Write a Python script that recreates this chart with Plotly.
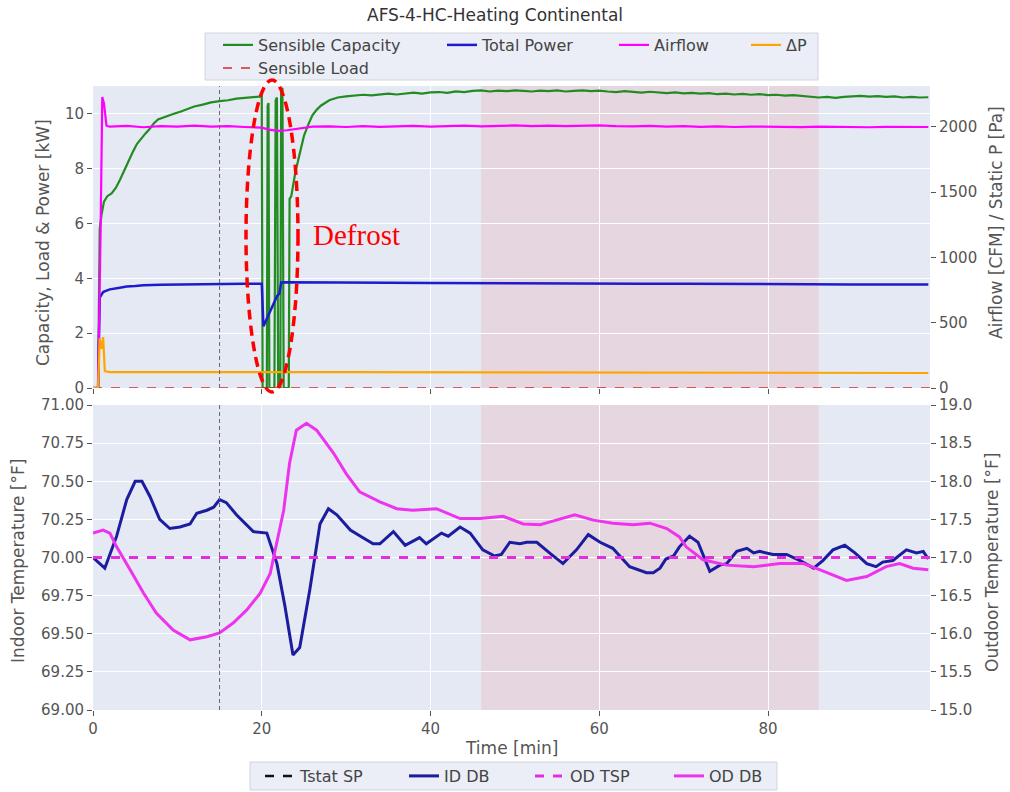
import plotly.graph_objects as go

# ---------------- top panel data ----------------
cap_t = [0, 0.6, 0.8, 1.0, 1.3, 1.7, 2.2, 2.7, 3.2, 3.7, 4.2, 4.7, 5.2, 5.7, 6.2, 6.7, 7.2, 7.7,
         8.5, 9.5, 10.5, 11, 12, 13, 14, 15, 16, 17, 18, 19, 20.0,
         20.1, 20.6, 20.7, 20.8, 20.9, 21.5, 21.65, 21.8, 21.95, 22.2, 22.3, 22.45, 22.6, 23.2, 23.3,
         23.5, 24.0, 24.5, 25.0, 25.5, 26, 26.5, 27, 28, 29,
         30, 31, 32, 33, 34, 35, 36, 37, 38, 39, 40, 41, 42, 43, 44, 45, 46, 47, 48, 49,
         50, 51, 52, 53, 54, 55, 56, 57, 58, 59, 60, 61, 62, 63, 64, 65, 66, 67, 68, 69,
         70, 71, 72, 73, 74, 75, 76, 77, 78, 79, 80, 81, 82, 83, 84, 85, 86, 87, 88, 89,
         90, 91, 92, 93, 94, 95, 96, 97, 98, 99]
cap_kw = [0, 0, 5.8, 6.3, 6.8, 7.0, 7.1, 7.3, 7.6, 7.95, 8.3, 8.6, 8.9, 9.1, 9.28, 9.45, 9.65, 9.8,
          9.9, 10.0, 10.1, 10.15, 10.27, 10.34, 10.42, 10.47, 10.5, 10.56, 10.58, 10.62, 10.64,
          0.0, 0.0, 10.3, 10.4, 0.0, 0.0, 10.5, 10.6, 0.0, 0.0, 10.9, 10.95, 0.0, 0.0, 6.9,
          7.0, 7.9, 8.6, 9.2, 9.6, 9.95, 10.15, 10.3, 10.5, 10.6,
          10.64, 10.66, 10.7, 10.68, 10.72, 10.74, 10.71, 10.75, 10.78, 10.74, 10.79, 10.8, 10.77, 10.82, 10.8, 10.84, 10.86, 10.82, 10.85, 10.83,
          10.86, 10.84, 10.82, 10.85, 10.83, 10.86, 10.82, 10.84, 10.86, 10.83, 10.85, 10.82, 10.8, 10.83, 10.8, 10.78, 10.81, 10.78, 10.76, 10.79,
          10.75, 10.77, 10.74, 10.76, 10.72, 10.74, 10.71, 10.73, 10.7, 10.72, 10.69, 10.7, 10.67, 10.69, 10.66, 10.63, 10.6, 10.62, 10.59, 10.62,
          10.64, 10.66, 10.63, 10.65, 10.62, 10.64, 10.6, 10.62, 10.6, 10.61]

pow_t = [0, 0.6, 0.8, 1.2, 1.6, 2, 3, 4, 5, 6, 8, 10, 12, 15, 18, 20.0, 20.2, 21.0, 21.8, 22.1, 22.3,
         23, 24, 26, 30, 35, 40, 45, 50, 55, 60, 65, 70, 75, 80, 85, 90, 95, 99]
pow_kw = [0, 0, 3.3, 3.5, 3.55, 3.6, 3.65, 3.7, 3.72, 3.75, 3.77, 3.78, 3.79, 3.8, 3.8, 3.8, 2.25, 2.8, 3.35, 3.45, 3.85,
          3.86, 3.86, 3.85, 3.85, 3.84, 3.83, 3.82, 3.82, 3.81, 3.8, 3.8, 3.8, 3.79, 3.79, 3.78, 3.78, 3.78, 3.78]

air_t = [0, 0.6, 0.9, 1.1, 1.3, 1.6, 2, 4, 6, 8, 10, 12, 14, 16, 18, 20, 21, 22, 23, 24, 25, 26, 28, 30,
         32, 34, 36, 38, 40, 42, 44, 46, 48, 50, 52, 54, 56, 58, 60, 62, 64, 66, 68, 70, 72, 74, 76, 78,
         80, 82, 84, 86, 88, 90, 92, 94, 96, 98, 99]
air_cfm = [0, 0, 1200, 2230, 2180, 2010, 2002, 2008, 1998, 2006, 2003, 2010, 2002, 2006, 2000, 1995, 1978, 1970, 1975, 1985, 1995, 2002, 2005, 2000,
           2006, 2001, 2004, 2008, 2003, 2007, 2010, 2005, 2009, 2012, 2007, 2010, 2006, 2011, 2012, 2006, 2004, 2008, 2003, 2006, 2001, 2004, 2000, 2003,
           2001, 2004, 1999, 2003, 2000, 2002, 1998, 2001, 1999, 2002, 2000]

dp_t = [0, 0.6, 0.8, 1.0, 1.2, 1.4, 2, 5, 10, 15, 20, 22, 25, 30, 40, 50, 60, 70, 80, 90, 99]
dp_pa = [0, 0, 380, 300, 390, 130, 122, 123, 122, 122, 121, 119, 121, 121, 120, 119, 118, 118, 117, 116, 115]

load_t = [0, 99.2]
load_kw = [0, 0]

# ---------------- bottom panel data ----------------
id_t = [0.0, 1.4, 2.8, 4.0, 5.0, 5.8, 6.75, 7.9, 9.1, 10.3, 11.5, 12.3, 13.5, 14.3, 15.0, 15.8, 17.0, 18.2, 19.0,
        20.6, 21.8, 22.75, 23.7, 24.5, 25.7, 26.9, 27.9, 28.9, 30.5, 32.0, 33.2, 34.0, 35.6, 37.0, 38.7, 39.5,
        41.3, 42.1, 43.5, 44.7, 46.2, 47.6, 48.4, 49.4, 50.6, 51.4, 52.6, 54.1, 55.7, 57.3, 58.7, 60.1, 61.6,
        63.6, 65.6, 66.4, 67.2, 67.9, 68.8, 69.5, 70.7, 71.7, 73.1, 74.3, 75.1, 76.3, 77.5, 78.3, 79.0, 80.6,
        82.2, 83.8, 85.4, 86.5, 87.7, 89.1, 90.3, 91.7, 92.8, 93.6, 94.8, 96.4, 97.6, 98.4, 99.0]
id_db = [70.0, 69.93, 70.14, 70.38, 70.50, 70.50, 70.40, 70.25, 70.19, 70.20, 70.22, 70.29, 70.31, 70.33, 70.38, 70.36, 70.28, 70.21, 70.17,
         70.16, 69.96, 69.68, 69.36, 69.41, 69.79, 70.22, 70.32, 70.28, 70.18, 70.13, 70.09, 70.09, 70.17, 70.08, 70.13, 70.09,
         70.16, 70.14, 70.20, 70.16, 70.05, 70.01, 70.02, 70.10, 70.09, 70.10, 70.10, 70.03, 69.96, 70.05, 70.15, 70.10, 70.06,
         69.94, 69.90, 69.90, 69.93, 69.99, 70.01, 70.07, 70.14, 70.10, 69.91, 69.95, 69.96, 70.04, 70.06, 70.03, 70.04, 70.02,
         70.02, 69.98, 69.93, 69.98, 70.05, 70.08, 70.03, 69.96, 69.94, 69.97, 69.98, 70.05, 70.03, 70.04, 69.99]

od_t = [0, 1.2, 2.0, 2.8, 4.4, 6.0, 7.5, 9.5, 11.5, 13.5, 15.0, 16.6, 18.2, 19.8, 21.0, 21.8, 22.6, 23.3, 24.1,
        25.3, 26.5, 28.5, 30.0, 31.6, 34.0, 36.0, 37.9, 40.7, 43.5, 45.9, 48.6, 51.0, 53.0, 54.9, 57.1, 59.3,
        61.6, 64.0, 66.0, 68.0, 69.5, 70.3, 72.3, 75.1, 78.3, 81.4, 84.2, 86.1, 88.1, 89.3, 91.7, 94.0, 95.6, 97.2, 99.0]
od_db = [17.32, 17.36, 17.32, 17.14, 16.84, 16.53, 16.27, 16.05, 15.92, 15.96, 16.01, 16.14, 16.31, 16.53, 16.79, 17.19, 17.62, 18.24, 18.67,
         18.76, 18.67, 18.37, 18.10, 17.86, 17.73, 17.64, 17.62, 17.64, 17.51, 17.51, 17.54, 17.44, 17.43, 17.49, 17.56, 17.49,
         17.45, 17.43, 17.45, 17.38, 17.27, 17.14, 16.97, 16.90, 16.88, 16.92, 16.92, 16.84, 16.75, 16.70, 16.75, 16.88, 16.92, 16.86, 16.84]

tstat_t = [0, 99.2]
tstat_sp = [70.0, 70.0]
odtsp_t = [0, 99.2]
od_tsp = [17.0, 17.0]

x_range = [0, 99.2]
shade_span = [46, 86]
tstat_line_t = 15

# ---------------- layout geometry ----------------
W, H = 1010, 792
ML, MR, MT, MB = 93, 80, 86, 82
PW, PH = W - ML - MR, H - MT - MB


def px(x):
    return (x - ML) / PW


def py(y):
    return (H - MB - y) / PH


FONT = "DejaVu Sans"
GREY = "#555555"

fig = go.Figure()


def add(x, y, name, line, xa, ya, leg):
    fig.add_trace(go.Scatter(x=x, y=y, mode="lines", name=name, line=line, xaxis=xa, yaxis=ya,
                             legend=leg, showlegend=True))


# top traces
add(cap_t, cap_kw, "Sensible Capacity", dict(color="#228B22", width=2.2), "x2", "y", "legend")
add(pow_t, pow_kw, "Total Power", dict(color="#1c1ccc", width=2.5), "x2", "y", "legend2")
add(air_t, air_cfm, "Airflow", dict(color="#ff00ff", width=2.2), "x2", "y2", "legend3")
add(dp_t, dp_pa, "ΔP", dict(color="#FFA500", width=2.2), "x2", "y2", "legend4")
add(load_t, load_kw, "Sensible Load", dict(color="#d62728", width=1.5, dash="dash"), "x2", "y", "legend5")

# bottom traces
add(tstat_t, tstat_sp, "Tstat SP", dict(color="#111111", width=2.5, dash="dash"), "x", "y3", "legend6")
add(id_t, id_db, "ID DB", dict(color="#1c1c9e", width=3), "x", "y3", "legend7")
add(odtsp_t, od_tsp, "OD TSP", dict(color="#e02ee0", width=3, dash="dash"), "x", "y4", "legend8")
add(od_t, od_db, "OD DB", dict(color="#ee33ee", width=3), "x", "y4", "legend9")

top_dom = [py(388), 1.0]
bot_dom = [0.0, py(405)]

tickfont = dict(family=FONT, size=15, color=GREY)
common_y = dict(ticks="outside", ticklen=5, tickcolor=GREY, tickfont=tickfont,
                zeroline=False, showline=False)

fig.update_layout(
    width=W, height=H, showlegend=True,
    margin=dict(l=ML, r=MR, t=MT, b=MB, autoexpand=False),
    paper_bgcolor="white", plot_bgcolor="#E4E9F4",
    font=dict(family=FONT, color="#333333"),
    xaxis=dict(domain=[0, 1], anchor="y3", range=x_range, tickvals=[0, 20, 40, 60, 80],
               ticks="outside", ticklen=5, tickcolor=GREY, tickfont=tickfont,
               showgrid=True, gridcolor="white", gridwidth=1, zeroline=False),
    xaxis2=dict(domain=[0, 1], anchor="y", range=x_range, matches="x", tickvals=[0, 20, 40, 60, 80],
                ticks="outside", ticklen=5, tickcolor=GREY, showticklabels=False,
                showgrid=True, gridcolor="white", gridwidth=1, zeroline=False),
    yaxis=dict(domain=top_dom, anchor="x2", range=[0, 11.02], tickvals=[0, 2, 4, 6, 8, 10],
               showgrid=True, gridcolor="white", **common_y),
    yaxis2=dict(overlaying="y", anchor="x2", side="right", range=[0, 2314],
                tickvals=[0, 500, 1000, 1500, 2000], showgrid=False, **common_y),
    yaxis3=dict(domain=bot_dom, anchor="x", range=[69, 71],
                tickvals=[69, 69.25, 69.5, 69.75, 70, 70.25, 70.5, 70.75, 71], tickformat=".2f",
                showgrid=True, gridcolor="white", **common_y),
    yaxis4=dict(overlaying="y3", anchor="x", side="right", range=[15, 19],
                tickvals=[15, 15.5, 16, 16.5, 17, 17.5, 18, 18.5, 19], tickformat=".1f",
                showgrid=False, **common_y),
)

# legends: one per entry so spacing matches
leg_font = dict(family=FONT, size=16, color="#444444")
top_row1 = py(45)
top_row2 = py(68)
bot_row = py(776)
leg_pos = {
    "legend": (218, top_row1), "legend2": (442, top_row1), "legend3": (614, top_row1),
    "legend4": (746, top_row1), "legend5": (218, top_row2),
    "legend6": (260, bot_row), "legend7": (404, bot_row), "legend8": (530, bot_row),
    "legend9": (669, bot_row),
}
for k, (lx, ly) in leg_pos.items():
    fig.update_layout({k: dict(x=px(lx), y=ly, xanchor="left", yanchor="middle", visible=True,
                               bgcolor="rgba(0,0,0,0)", borderwidth=0, font=leg_font,
                               orientation="h")})

shapes = []
# legend frames
shapes.append(dict(type="rect", xref="paper", yref="paper", x0=px(205), x1=px(818), y0=py(80), y1=py(33),
                   fillcolor="#EBEEF6", line=dict(color="#d0d4dc", width=1), layer="below"))
shapes.append(dict(type="rect", xref="paper", yref="paper", x0=px(250), x1=px(777), y0=py(790), y1=py(762),
                   fillcolor="#EBEEF6", line=dict(color="#d0d4dc", width=1), layer="below"))
# shaded spans and thermostat marker line
for xr, yr in (("x2", "y domain"), ("x", "y3 domain")):
    shapes.append(dict(type="rect", xref=xr, yref=yr, x0=shade_span[0], x1=shade_span[1], y0=0, y1=1,
                       fillcolor="rgba(255,0,0,0.08)", line=dict(width=0), layer="below"))
    shapes.append(dict(type="line", xref=xr, yref=yr, x0=tstat_line_t, x1=tstat_line_t, y0=0, y1=1,
                       line=dict(color="#666666", width=1, dash="4px,3px"), layer="above"))
# defrost ellipse
shapes.append(dict(type="circle", xref="paper", yref="paper", x0=px(246), x1=px(298), y0=py(392), y1=py(80),
                   line=dict(color="#ff0000", width=3.5, dash="10px,6px"), layer="above"))
fig.update_layout(shapes=shapes)

ann = []
ann.append(dict(text="AFS-4-HC-Heating Continental", xref="paper", yref="paper", x=px(495), y=py(15),
                showarrow=False, font=dict(family=FONT, size=17, color="#333333"), xanchor="center", yanchor="middle"))
ann.append(dict(text="Defrost", xref="paper", yref="paper", x=px(356), y=py(235), showarrow=False,
                font=dict(family="Liberation Serif", size=29, color="#ff0000"), xanchor="center", yanchor="middle"))
axt = dict(family=FONT, size=17, color=GREY)
ann.append(dict(text="Capacity, Load &amp; Power [kW]", xref="paper", yref="paper", x=px(43), y=py(243),
                textangle=-90, showarrow=False, font=axt, xanchor="center", yanchor="middle"))
ann.append(dict(text="Airflow [CFM] / Static P [Pa]", xref="paper", yref="paper", x=px(996), y=py(223),
                textangle=-90, showarrow=False, font=axt, xanchor="center", yanchor="middle"))
ann.append(dict(text="Indoor Temperature [°F]", xref="paper", yref="paper", x=px(18), y=py(561),
                textangle=-90, showarrow=False, font=axt, xanchor="center", yanchor="middle"))
ann.append(dict(text="Outdoor Temperature [°F]", xref="paper", yref="paper", x=px(992), y=py(563),
                textangle=-90, showarrow=False, font=axt, xanchor="center", yanchor="middle"))
ann.append(dict(text="Time [min]", xref="paper", yref="paper", x=px(511), y=py(748),
                showarrow=False, font=axt, xanchor="center", yanchor="middle"))
fig.update_layout(annotations=ann)

fig.write_html("out.html")
